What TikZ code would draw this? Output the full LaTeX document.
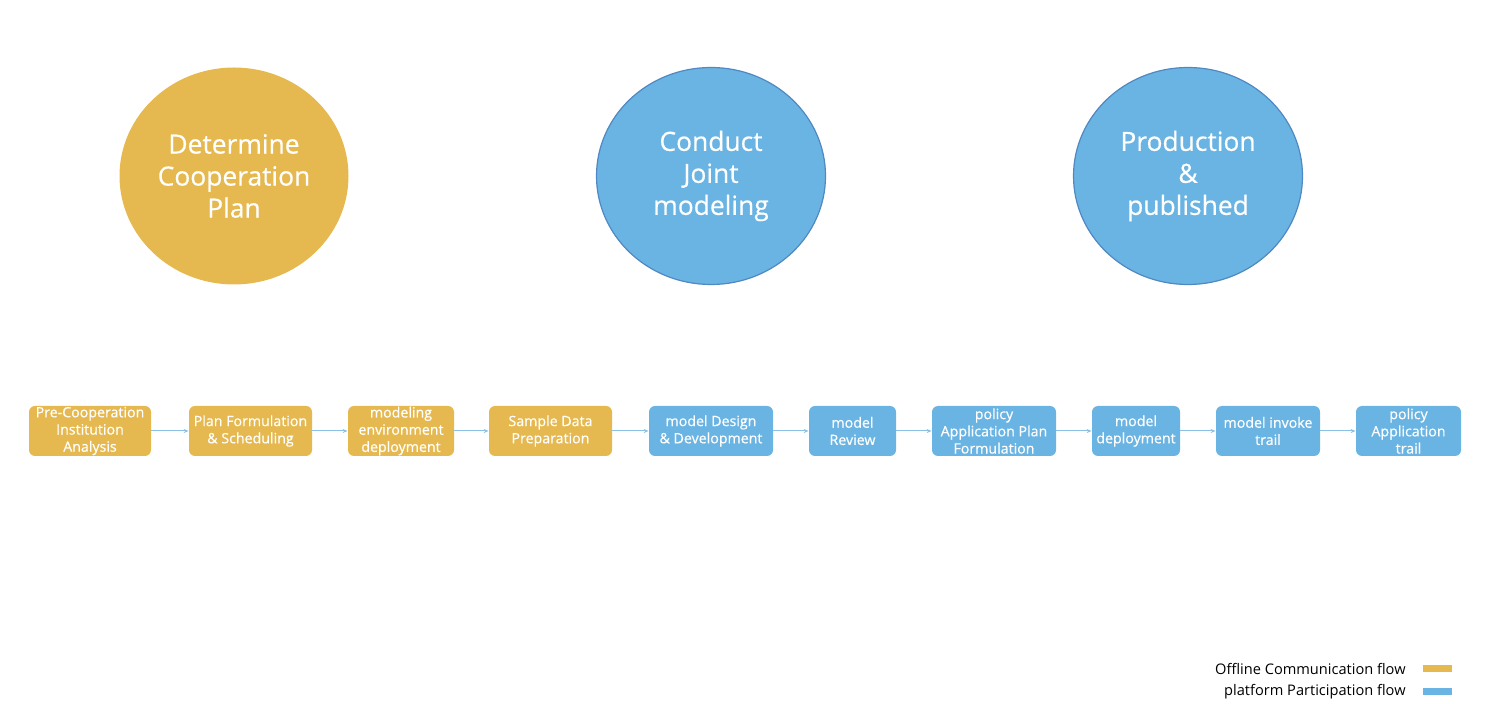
\documentclass[tikz,border=0pt]{standalone}
\usepackage{fontspec}
\setmainfont{Open Sans}[BoldFont={Open Sans}, BoldFeatures={FakeBold=0.45}]
\newfontfamily\legendfont{Open Sans}
\usetikzlibrary{arrows.meta,shapes.geometric}
\definecolor{gold}{HTML}{E5B94F}
\definecolor{sky}{HTML}{6AB4E3}
\definecolor{skyline}{HTML}{4F88C2}
\definecolor{arrowc}{HTML}{8BC1E6}
\tikzset{
  phase/.style={ellipse, minimum width=114.5pt, minimum height=108.5pt, inner sep=0pt, align=center, text=white, font=\bfseries\fontsize{13.2}{16}\selectfont},
  goldphase/.style={phase, fill=gold},
  bluephase/.style={phase, fill=sky, draw=skyline, line width=0.6pt},
  stepbox/.style={rounded corners=3pt, minimum height=25pt, inner sep=0pt, align=center, text=white, font=\bfseries\fontsize{7.1}{8.6}\selectfont},
  goldbox/.style={stepbox, fill=gold},
  bluebox/.style={stepbox, fill=sky},
  flow/.style={draw=arrowc, line width=0.5pt, -{Stealth[length=2.5pt,width=2pt]}},
  legendtxt/.style={anchor=east, inner sep=0pt, font=\legendfont\fontsize{7.3}{9}\selectfont},
}
\begin{document}
\begin{tikzpicture}[x=0.5pt,y=-0.5pt]
\useasboundingbox (0,0) rectangle (1488,704);
\node[goldphase] (c1) at (234,176) {Determine\\Cooperation\\Plan};
\node[bluephase] (c2) at (711,176) {Conduct\\Joint\\modeling};
\node[bluephase] (c3) at (1188,176) {Production\\\&\\published};

\node[goldbox, minimum width=61pt] (b1) at (90,431) {Pre-Cooperation\\Institution\\Analysis};
\node[goldbox, minimum width=61.5pt] (b2) at (250.5,431) {Plan Formulation\\\& Scheduling};
\node[goldbox, minimum width=53pt] (b3) at (401,431) {modeling\\environment\\deployment};
\node[goldbox, minimum width=61.5pt] (b4) at (550.5,431) {Sample Data\\Preparation};
\node[bluebox, minimum width=62pt] (b5) at (711,431) {model Design\\\& Development};
\node[bluebox, minimum width=43.5pt] (b6) at (852.5,431) {model\\Review};
\node[bluebox, minimum width=62pt] (b7) at (994,431) {policy\\Application Plan\\Formulation};
\node[bluebox, minimum width=44pt] (b8) at (1136,431) {model\\deployment};
\node[bluebox, minimum width=52pt] (b9) at (1268,431) {model invoke\\trail};
\node[bluebox, minimum width=52.5pt] (b10) at (1408.5,431) {policy\\Application\\trail};

\foreach \a/\b in {b1/b2,b2/b3,b3/b4,b4/b5,b5/b6,b6/b7,b7/b8,b8/b9,b9/b10}
  \draw[flow] (\a.east) -- (\b.west);

\node[legendtxt] (l1) at (1406,669) {Offline Communication flow};
\node[legendtxt] (l2) at (1406,692) {platform Participation flow};
\node[fill=gold, minimum width=14.5pt, minimum height=3.5pt, inner sep=0pt] (k1) at (1437.5,669) {};
\node[fill=sky, minimum width=14.5pt, minimum height=3.5pt, inner sep=0pt] (k2) at (1437.5,692) {};
\end{tikzpicture}
\end{document}
